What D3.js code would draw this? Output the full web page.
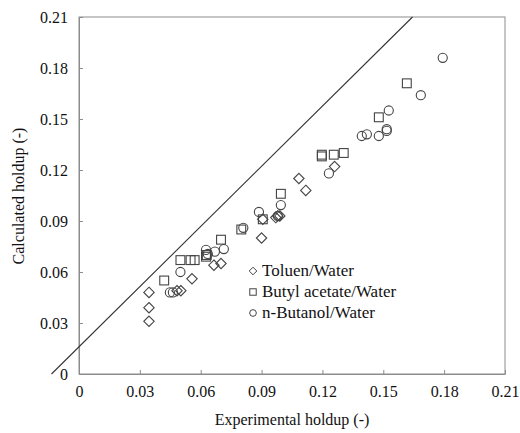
<!DOCTYPE html>
<html><head><meta charset="utf-8">
<script src="https://cdn.jsdelivr.net/npm/d3@7"></script>
<style>body{margin:0;background:#fff}svg{display:block}</style>
</head><body><svg id="c" width="520" height="433"></svg>
<script>
const xTicks=[0,0.03,0.06,0.09,0.12,0.15,0.18,0.21];
const yTicks=[0,0.03,0.06,0.09,0.12,0.15,0.18,0.21];
const seriesNames=["Toluen/Water","Butyl acetate/Water","n-Butanol/Water"];
const toluenX=[0.0345,0.0345,0.0345,0.0483,0.0502,0.0557,0.0665,0.070,0.090,0.0906,0.097,0.098,0.099,0.1084,0.1118,0.126];
const toluenY=[0.048,0.039,0.031,0.049,0.049,0.056,0.064,0.065,0.080,0.091,0.092,0.093,0.093,0.115,0.108,0.122];
const butylX=[0.042,0.050,0.055,0.057,0.0626,0.063,0.070,0.080,0.0906,0.0995,0.1197,0.1197,0.1256,0.1305,0.1478,0.1616];
const butylY=[0.055,0.067,0.067,0.067,0.069,0.070,0.079,0.085,0.091,0.106,0.129,0.128,0.129,0.130,0.151,0.171];
const butanolX=[0.0448,0.0463,0.050,0.0626,0.0635,0.067,0.0714,0.081,0.0887,0.098,0.0995,0.1232,0.1394,0.1419,0.1478,0.1517,0.1517,0.1527,0.1685,0.1793];
const butanolY=[0.048,0.048,0.060,0.073,0.0706,0.072,0.0735,0.086,0.0953,0.093,0.0994,0.118,0.140,0.141,0.140,0.144,0.143,0.155,0.164,0.186];
const lineIntercept=0.016, lineSlope=1.18;

const FONT="Times New Roman";
const svg=d3.select("#c");
const x=d3.scaleLinear().domain([0,0.21]).range([79,505]);
const y=d3.scaleLinear().domain([0,0.21]).range([374,17]);
const axisCol="#8c8c8c";
svg.append("rect").attr("x",x(0)).attr("y",y(0.21)).attr("width",x(0.21)-x(0)).attr("height",y(0)-y(0.21))
 .attr("fill","none").attr("stroke",axisCol).attr("stroke-width",1);
const fmt=d=>d===0?"0":d3.format(".2f")(d);
const gx=svg.append("g").attr("transform",`translate(0,${y(0)})`)
 .call(d3.axisBottom(x).tickValues(xTicks).tickFormat(fmt).tickSizeInner(-4).tickSizeOuter(0).tickPadding(12));
const gy=svg.append("g").attr("transform",`translate(${x(0)},0)`)
 .call(d3.axisLeft(y).tickValues(yTicks).tickFormat(fmt).tickSizeInner(-4).tickSizeOuter(0).tickPadding(11));
[gx,gy].forEach(g=>{g.attr("font-family",FONT).attr("font-size",16);g.select(".domain").attr("stroke",axisCol);g.selectAll(".tick line").attr("stroke",axisCol);
 g.selectAll("text").attr("fill","#111");});
const x0=(0-lineIntercept)/lineSlope, x1=(0.21-lineIntercept)/lineSlope;
svg.append("line").attr("x1",x(x0)).attr("y1",y(0)).attr("x2",x(x1)).attr("y2",y(0.21))
 .attr("stroke","#333").attr("stroke-width",1.1);
const mk=(g,type,px,py,s)=>{
 if(type===0) g.append("path").attr("d",`M${px},${py-s}L${px+s},${py}L${px},${py+s}L${px-s},${py}Z`);
 else if(type===1) g.append("rect").attr("x",px-s*0.85).attr("y",py-s*0.85).attr("width",s*1.7).attr("height",s*1.7);
 else g.append("circle").attr("cx",px).attr("cy",py).attr("r",s*0.88);
};
const pts=svg.append("g").attr("fill","none").attr("stroke","#444").attr("stroke-width",1.1);
toluenX.forEach((v,i)=>mk(pts,0,x(v),y(toluenY[i]),5.2));
butylX.forEach((v,i)=>mk(pts,1,x(v),y(butylY[i]),5.2));
butanolX.forEach((v,i)=>mk(pts,2,x(v),y(butanolY[i]),5.2));
const lg=svg.append("g").attr("font-family",FONT).attr("font-size",17).attr("fill","#111");
const ly=[271,292,313];
seriesNames.forEach((n,i)=>{
 const g=lg.append("g").attr("fill","none").attr("stroke","#444").attr("stroke-width",1);
 mk(g,i,253,ly[i],3.8);
 lg.append("text").attr("x",262).attr("y",ly[i]+5).text(n);
});
const tg=svg.append("g").attr("font-family",FONT).attr("font-size",16).attr("fill","#111");
tg.append("text").attr("x",292).attr("y",425).attr("text-anchor","middle").text("Experimental holdup (-)");
tg.append("text").attr("transform","translate(24,196) rotate(-90)").attr("text-anchor","middle").text("Calculated holdup (-)");
</script></body></html>
